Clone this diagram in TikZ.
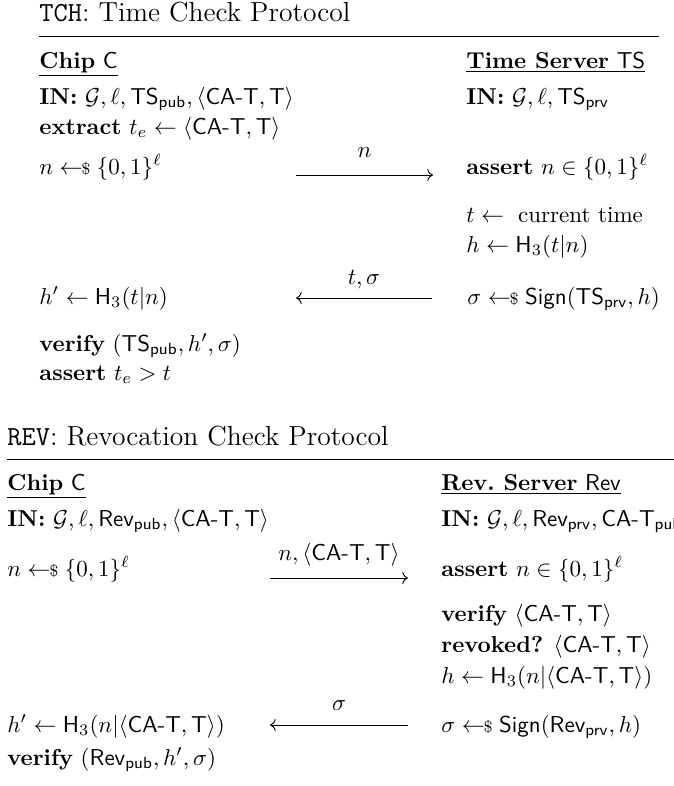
\documentclass[tikz,border=0pt]{standalone}
\usepackage{amsmath}
\usepackage{tikz}
\usetikzlibrary{arrows.meta}
\newcommand{\samp}{\mathrel{\leftarrow\!\!{\scriptstyle\$}}}
\newcommand{\cert}{\langle\textsf{CA-T},\textsf{T}\rangle}
\newcommand{\sfk}[2]{\textsf{#1}_{\textsf{#2}}}
\newcommand{\Hthree}{\textsf{H}_3}

\begin{document}
\begin{tikzpicture}[x=0.4348pt, y=-0.4348pt,
    txt/.style={anchor=base west, inner sep=0pt},
    ttl/.style={anchor=base west, inner sep=0pt, font=\large},
    lbl/.style={anchor=base, inner sep=0pt},
    msg/.style={-{Computer Modern Rightarrow}, line width=0.4pt}]
  \useasboundingbox (0,0) rectangle (674,786);

  % time check
  \node[ttl] (tchtitle) at (39,21) {\texttt{TCH}: Time Check Protocol};
  \coordinate (tchL) at (39,36);
  \coordinate (tchR) at (659,36);
  \draw (tchL) -- (tchR);

  \node[txt] (chip1) at (39,68) {\underline{\textbf{Chip} \textsf{C}}};
  \node[txt] (ts) at (466,68) {\underline{\textbf{Time Server} \textsf{TS}}};
  \node[txt] (in1) at (39,104) {\textbf{IN:} $\mathcal{G},\ell,\sfk{TS}{pub},\cert$};
  \node[txt] (in2) at (466,104) {\textbf{IN:} $\mathcal{G},\ell,\sfk{TS}{prv}$};
  \node[txt] (extr) at (39,134) {\textbf{extract} $t_e\leftarrow\cert$};
  \node[txt] (nonce1) at (39,174) {$n\samp\{0,1\}^\ell$};
  \node[txt] (chk1) at (466,174) {\textbf{assert} $n\in\{0,1\}^\ell$};
  \node[txt] (time) at (466,222) {$t\leftarrow\ \text{current time}$};
  \node[txt] (hash1) at (466,252) {$h\leftarrow\Hthree(t|n)$};
  \node[txt] (hp1) at (39,304) {$h'\leftarrow\Hthree(t|n)$};
  \node[txt] (sig1) at (467,304) {$\sigma\samp\textsf{Sign}(\sfk{TS}{prv},h)$};
  \node[txt] (ver1) at (39,351) {\textbf{verify} $(\sfk{TS}{pub},h',\sigma)$};
  \node[txt] (chk2) at (39,380) {\textbf{assert} $t_e>t$};

  \coordinate (m1a) at (296,175);
  \coordinate (m1b) at (433,175);
  \draw[msg] (m1a) -- (m1b) node[lbl, midway, yshift=7.4pt] (m1) {$n$};
  \coordinate (m2a) at (296,298);
  \coordinate (m2b) at (432,298);
  \draw[msg] (m2b) -- (m2a) node[lbl, midway, yshift=6pt] (m2) {$t,\sigma$};

  % revocation check
  \node[ttl] (revtitle) at (7,445) {\texttt{REV}: Revocation Check Protocol};
  \coordinate (revL) at (7,459);
  \coordinate (revR) at (694,459);
  \draw (revL) -- (revR);

  \node[txt] (chip2) at (7,490) {\underline{\textbf{Chip} \textsf{C}}};
  \node[txt] (rs) at (441,490) {\underline{\textbf{Rev.\ Server} \textsf{Rev}}};
  \node[txt] (in3) at (7,526) {\textbf{IN:} $\mathcal{G},\ell,\sfk{Rev}{pub},\cert$};
  \node[txt] (in4) at (441,526) {\textbf{IN:} $\mathcal{G},\ell,\sfk{Rev}{prv},\sfk{CA-T}{pub}$};
  \node[txt] (nonce2) at (7,576) {$n\samp\{0,1\}^\ell$};
  \node[txt] (chk3) at (441,576) {\textbf{assert} $n\in\{0,1\}^\ell$};
  \node[txt] (ver2) at (441,621) {\textbf{verify} $\cert$};
  \node[txt] (rvk) at (441,652) {\textbf{revoked?} $\cert$};
  \node[txt] (hash2) at (441,683) {$h\leftarrow\Hthree(n|\cert)$};
  \node[txt] (hp2) at (7,732) {$h'\leftarrow\Hthree(n|\cert)$};
  \node[txt] (sig2) at (441,732) {$\sigma\samp\textsf{Sign}(\sfk{Rev}{prv},h)$};
  \node[txt] (ver3) at (7,765) {\textbf{verify} $(\sfk{Rev}{pub},h',\sigma)$};

  \coordinate (m3a) at (270,578);
  \coordinate (m3b) at (408,578);
  \draw[msg] (m3a) -- (m3b) node[lbl, midway, yshift=7.4pt] (m3) {$n,\cert$};
  \coordinate (m4a) at (270,725);
  \coordinate (m4b) at (408,725);
  \draw[msg] (m4b) -- (m4a) node[lbl, midway, yshift=6.4pt] (m4) {$\sigma$};
\end{tikzpicture}
\end{document}
